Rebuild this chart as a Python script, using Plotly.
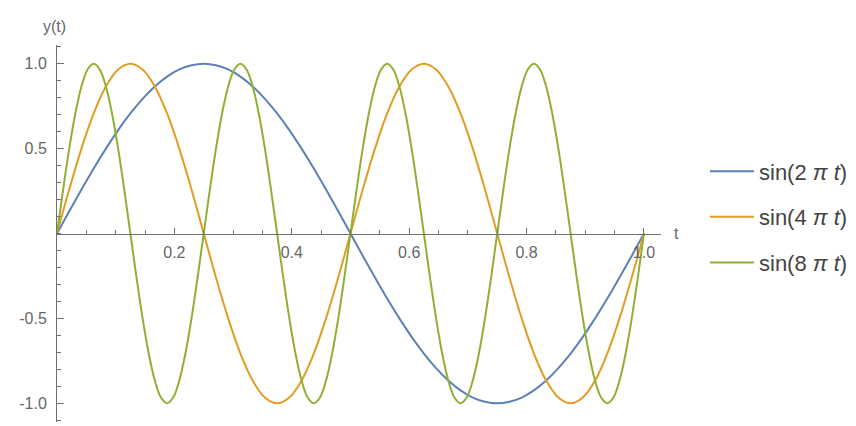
import plotly.graph_objects as go

# sample grids
t = [i / 48 for i in range(49)]
t_fine = [i / 96 for i in range(97)]

# values
y_2pi = [0, .131, .259, .383, .5, .609, .707, .793, .866, .924, .966, .991, 1,
         .991, .966, .924, .866, .793, .707, .609, .5, .383, .259, .131, 0,
         -.131, -.259, -.383, -.5, -.609, -.707, -.793, -.866, -.924, -.966, -.991, -1,
         -.991, -.966, -.924, -.866, -.793, -.707, -.609, -.5, -.383, -.259, -.131, 0]
y_4pi = [0, .259, .5, .707, .866, .966, 1, .966, .866, .707, .5, .259,
         0, -.259, -.5, -.707, -.866, -.966, -1, -.966, -.866, -.707, -.5, -.259,
         0, .259, .5, .707, .866, .966, 1, .966, .866, .707, .5, .259,
         0, -.259, -.5, -.707, -.866, -.966, -1, -.966, -.866, -.707, -.5, -.259, 0]
# on the finer grid
y_8pi = [0, .259, .5, .707, .866, .966, 1, .966, .866, .707, .5, .259,
         0, -.259, -.5, -.707, -.866, -.966, -1, -.966, -.866, -.707, -.5, -.259,
         0, .259, .5, .707, .866, .966, 1, .966, .866, .707, .5, .259,
         0, -.259, -.5, -.707, -.866, -.966, -1, -.966, -.866, -.707, -.5, -.259,
         0, .259, .5, .707, .866, .966, 1, .966, .866, .707, .5, .259,
         0, -.259, -.5, -.707, -.866, -.966, -1, -.966, -.866, -.707, -.5, -.259,
         0, .259, .5, .707, .866, .966, 1, .966, .866, .707, .5, .259,
         0, -.259, -.5, -.707, -.866, -.966, -1, -.966, -.866, -.707, -.5, -.259, 0]

names = ["sin(2 <i>π t</i>)", "sin(4 <i>π t</i>)", "sin(8 <i>π t</i>)"]
colors = ["#5E81B5", "#E19C24", "#8FB032"]

x_ticks = [0.2, 0.4, 0.6, 0.8, 1.0]
x_labels = ["0.2", "0.4", "0.6", "0.8", "1.0"]
y_ticks = [-1.0, -0.5, 0.5, 1.0]
y_labels = ["-1.0", "-0.5", "0.5", "1.0"]

fig = go.Figure()
series = [(t, y_2pi), (t, y_4pi), (t_fine, y_8pi)]
for i, ((xs, ys), name, c) in enumerate(zip(series, names, colors)):
    fig.add_trace(go.Scatter(
        x=xs, y=ys, mode='lines', name=name, legendgroup=str(i),
        line=dict(color=c, width=2, shape='spline', smoothing=1.0, simplify=False)
    ))

axis_col = '#707070'
fig.update_layout(
    width=856, height=426,
    margin=dict(l=49, r=202, t=37, b=12),
    plot_bgcolor='white', paper_bgcolor='white',
    font=dict(family='Liberation Sans, Arial, sans-serif', color='#666666', size=16),
    xaxis=dict(
        range=[0, 1.029], showgrid=False, zeroline=False,
        showline=True, linecolor=axis_col, linewidth=1,
        anchor='free', position=0.5,
        tickmode='array', tickvals=x_ticks, ticktext=x_labels,
        ticks='inside', ticklen=6, tickcolor=axis_col, ticklabelstandoff=4,
        minor=dict(tickmode='array', tickvals=[i * 0.05 for i in range(1, 21)],
                   ticks='inside', ticklen=4, tickcolor=axis_col),
    ),
    yaxis=dict(
        range=[-1.11, 1.11], showgrid=False, zeroline=False,
        showline=True, linecolor=axis_col, linewidth=1,
        tickmode='array', tickvals=y_ticks, ticktext=y_labels,
        ticks='inside', ticklen=7, tickcolor=axis_col, ticklabelstandoff=6,
        minor=dict(tickmode='array', tickvals=[-1.1 + i * 0.1 for i in range(23)],
                   ticks='inside', ticklen=4, tickcolor=axis_col),
    ),
    legend=dict(x=(697 - 49) / 605, y=0.544, xanchor='left', yanchor='middle',
                itemwidth=44, tracegroupgap=14,
                font=dict(size=22, color='#444444')),
    annotations=[
        dict(text='y(t)', xref='paper', yref='paper', x=0, y=1, yshift=19, xshift=-3,
             xanchor='center', yanchor='middle', showarrow=False,
             font=dict(size=16, color='#666666')),
        dict(text='t', xref='paper', yref='paper', x=1, y=0.5, xshift=11,
             xanchor='left', yanchor='middle', showarrow=False,
             font=dict(size=16, color='#666666')),
    ],
)

fig.write_html("out.html")
